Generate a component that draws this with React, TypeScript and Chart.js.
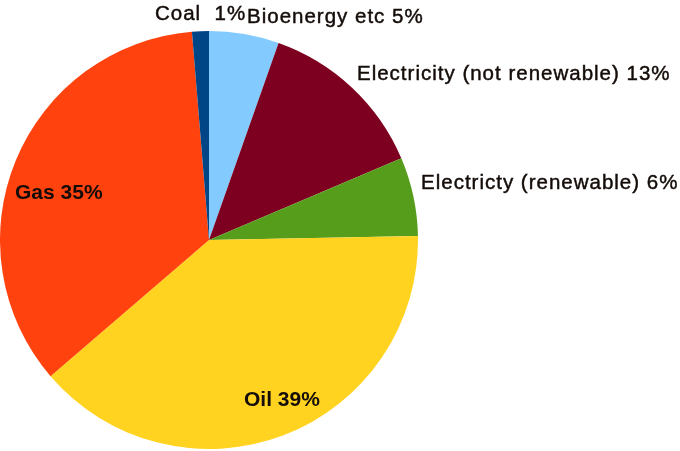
import React, { useEffect, useRef } from "react";
import { Chart, registerables } from "chart.js";

Chart.register(...registerables);

const categories = [
  "Bioenergy etc",
  "Electricity (not renewable)",
  "Electricty (renewable)",
  "Oil",
  "Gas",
  "Coal ",
];
const values = [5.4, 13.2, 6.1, 39.0, 35.0, 1.3];
const colors = ["#83caff", "#7e0021", "#579d1c", "#ffd320", "#ff420e", "#004586"];
// label anchor relative to the pie centre, in units of the outer radius
const labelFx = [0.1818, 0.7081, 1.0144, 0.1675, -0.9282, -0.2584];
const labelFy = [-1.0383, -0.7632, -0.244, 0.7943, -0.1962, -1.0526];
const labelBold = [false, false, false, true, true, false];

const labelPlugin = {
  id: "sliceLabels",
  afterDatasetsDraw(chart: any) {
    const ctx = chart.ctx as CanvasRenderingContext2D;
    const meta = chart.getDatasetMeta(0);
    const data = chart.data.datasets[0].data as number[];
    const total = data.reduce((a, b) => a + b, 0);
    ctx.save();
    ctx.fillStyle = "#140c08";
    ctx.strokeStyle = "#140c08";
    ctx.lineWidth = 0.45;
    ctx.textAlign = "left";
    ctx.textBaseline = "alphabetic";
    meta.data.forEach((arc: any, i: number) => {
      const { x, y, outerRadius } = arc.getProps(["x", "y", "outerRadius"], true);
      const pct = Math.round((data[i] / total) * 100);
      const text = `${chart.data.labels[i]} ${pct}%`;
      const tx = x + outerRadius * labelFx[i];
      const ty = y + outerRadius * labelFy[i];
      if (labelBold[i]) {
        ctx.font = "bold 21px 'Liberation Sans', Arial, sans-serif";
        (ctx as any).letterSpacing = "0px";
        ctx.fillText(text, tx, ty);
      } else {
        ctx.font = "20.5px 'Liberation Sans', Arial, sans-serif";
        (ctx as any).letterSpacing = "1px";
        ctx.fillText(text, tx, ty);
        ctx.strokeText(text, tx, ty);
      }
    });
    ctx.restore();
  },
};

export default function App() {
  const ref = useRef<HTMLCanvasElement | null>(null);
  useEffect(() => {
    if (!ref.current) return;
    const chart = new Chart(ref.current, {
      type: "pie",
      data: {
        labels: categories,
        datasets: [
          {
            data: values,
            backgroundColor: colors,
            borderWidth: 0,
          },
        ],
      },
      options: {
        animation: false,
        responsive: true,
        maintainAspectRatio: false,
        layout: { padding: { left: 0, top: 31, right: 262, bottom: 2 } },
        plugins: {
          legend: { display: false },
          tooltip: { enabled: false },
        },
      },
      plugins: [labelPlugin],
    });
    return () => chart.destroy();
  }, []);
  return (
    <div style={{ position: "absolute", left: 0, top: 0, width: 680, height: 451, background: "#fff" }}>
      <canvas ref={ref} />
    </div>
  );
}
